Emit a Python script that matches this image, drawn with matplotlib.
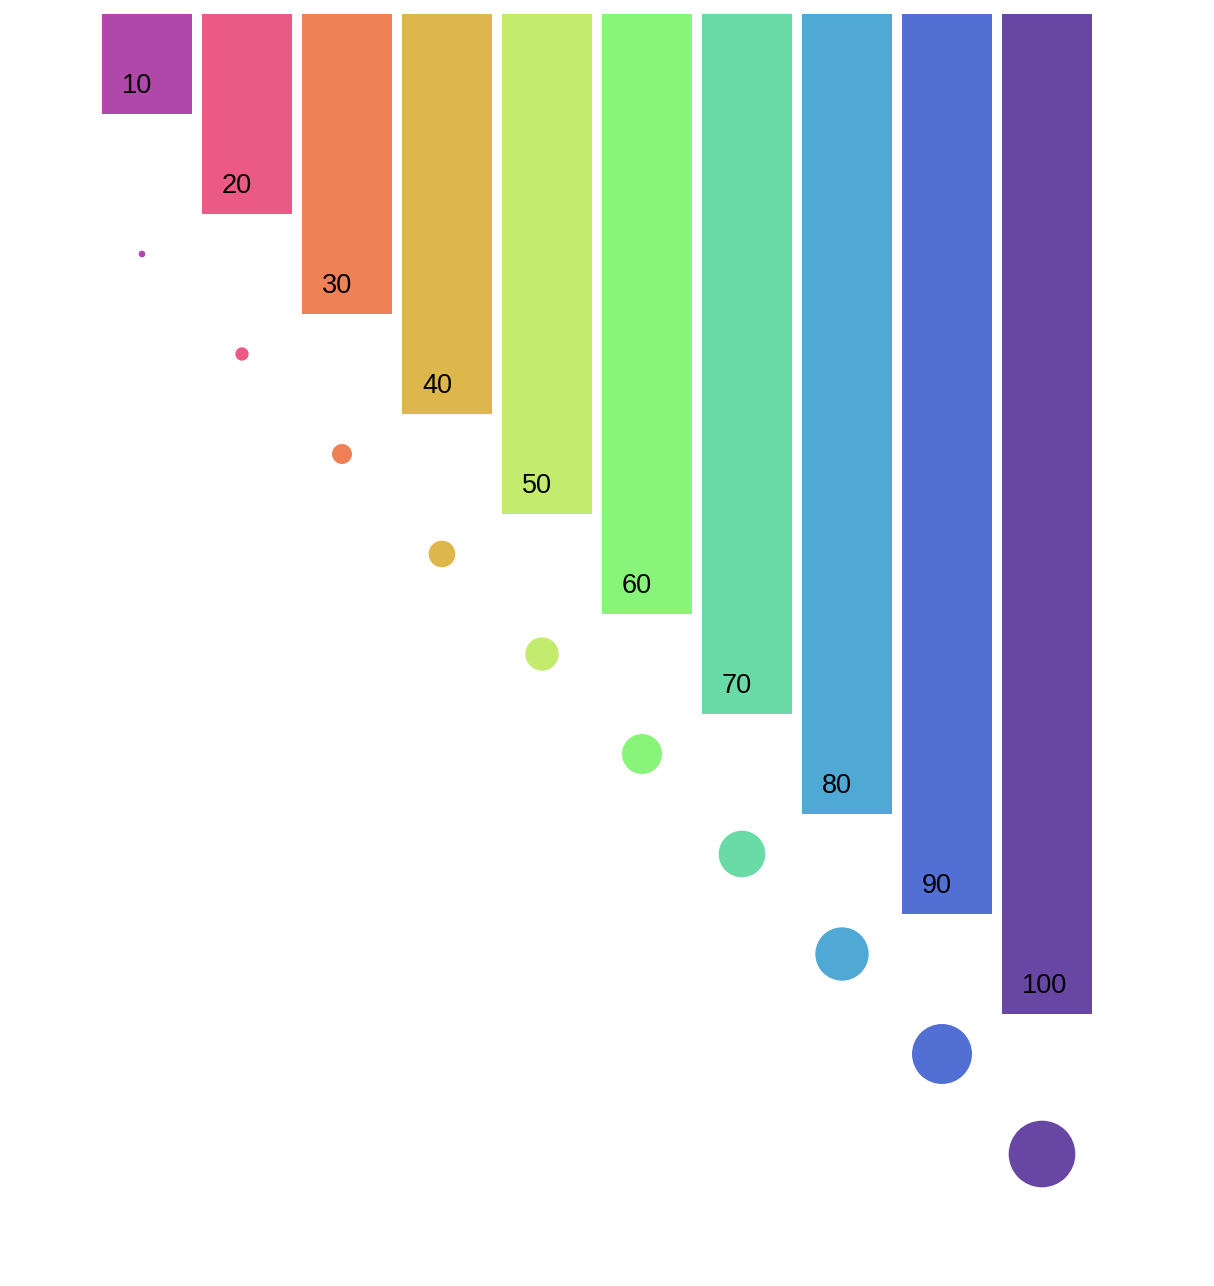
import numpy as np
import matplotlib
matplotlib.use("Agg")
import matplotlib.pyplot as plt

values = [10, 20, 30, 40, 50, 60, 70, 80, 90, 100]
labels = [str(v) for v in values]
colors = ["#B048A9", "#EB5A84", "#EF8156", "#DDB74B", "#C3EC6E",
          "#88F47A", "#6ADBA6", "#50A9D4", "#5270D4", "#6846A4"]

W, H, DPI = 1214, 1286, 100
fig = plt.figure(figsize=(W / DPI, H / DPI), dpi=DPI)
ax = fig.add_axes([0, 0, 1, 1])
# 1 index unit = 100 px, 1 value unit = 10 px; bars start at pixel (102, 14)
ax.set_xlim(-1.02, (W - 102) / 100)
ax.set_ylim((H - 14) / 10, -1.4)
ax.axis("off")

x = np.arange(len(values))
ax.bar(x, values, width=0.9, align="edge", color=colors, bottom=0)

for xi, v, lab in zip(x, values, labels):
    ax.text(xi + 0.2, v - 2.05, lab, ha="left", va="baseline",
            fontsize=19.5, family=["Liberation Sans", "DejaVu Sans"], color="black")

# circles: radius in px = value/3
diam_pt = np.array(values) / 3 * 2 * 72 / DPI
ax.scatter(x + 0.4, np.array(values) + 14, s=diam_pt ** 2, c=colors,
           linewidths=0, clip_on=False)

fig.savefig("out.png", dpi=DPI, facecolor="white")
